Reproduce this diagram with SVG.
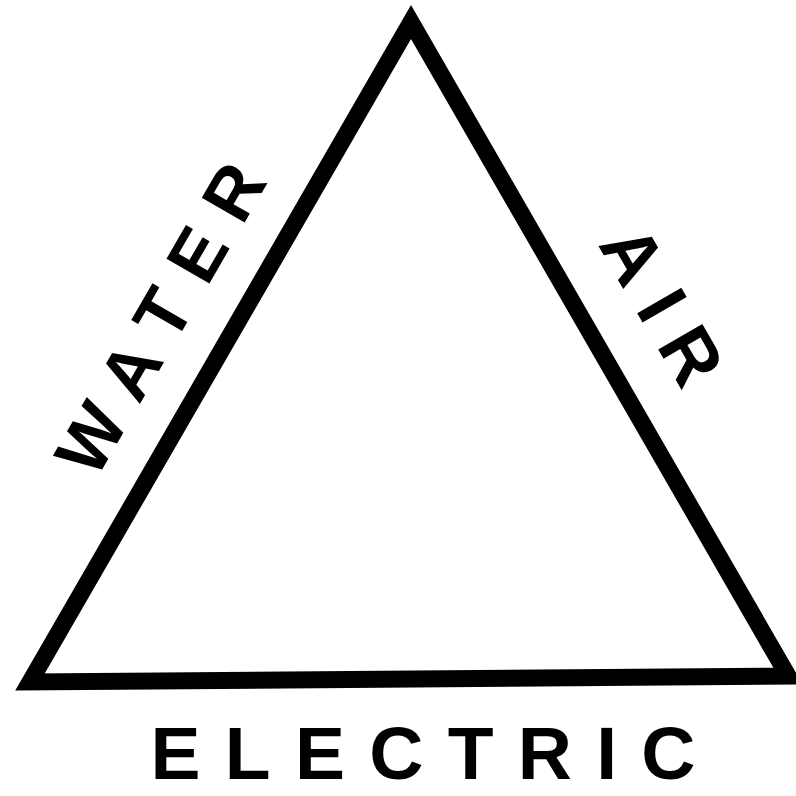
<svg xmlns="http://www.w3.org/2000/svg" width="796" height="796" viewBox="0 0 796 796">
<style>
.lbl{font-family:"Liberation Sans",Arial,sans-serif;font-weight:bold;fill:#000;text-anchor:middle}
</style>
<rect width="796" height="796" fill="#fff"/>
<g id="triangle">
<polygon points="411,22 30,682 788,676" fill="none" stroke="#000" stroke-width="17" stroke-linejoin="miter" stroke-miterlimit="4"/>
</g>
<g id="labels">
<text id="water" class="lbl" font-size="72" transform="translate(182,331) rotate(-60)" x="0" y="0" textLength="345" lengthAdjust="spacing">WATER</text>
<text id="air" class="lbl" font-size="74" transform="translate(640,318) rotate(60)" x="0" y="0" textLength="170" lengthAdjust="spacing">AIR</text>
<text id="electric" class="lbl" font-size="75" x="423" y="779" textLength="545" lengthAdjust="spacing">ELECTRIC</text>
</g>
</svg>
